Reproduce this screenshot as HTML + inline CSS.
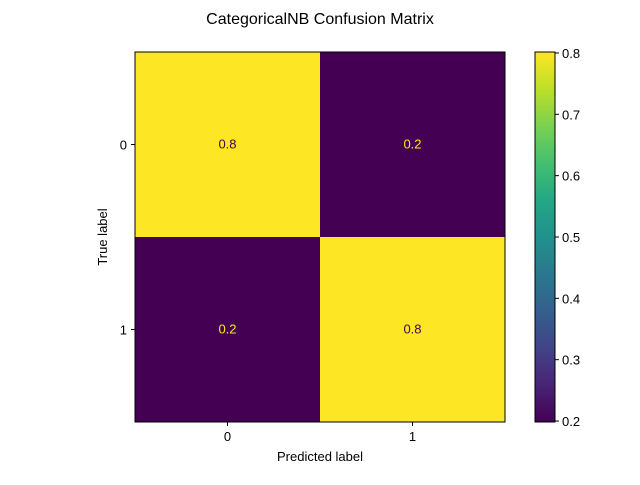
<!DOCTYPE html>
<html><head><meta charset="utf-8"><style>
body{margin:0;background:#fff;}
svg text{font-family:"Liberation Sans","DejaVu Sans",sans-serif;}
</style></head><body>
<svg id="chart" width="640" height="480" viewBox="0 0 640 480">
<defs>
<linearGradient id="vir" x1="0" y1="1" x2="0" y2="0">
<stop offset="0" stop-color="#440154"/><stop offset="0.1" stop-color="#482475"/>
<stop offset="0.2" stop-color="#414487"/><stop offset="0.3" stop-color="#355f8d"/>
<stop offset="0.4" stop-color="#2a788e"/><stop offset="0.5" stop-color="#21918c"/>
<stop offset="0.6" stop-color="#22a884"/><stop offset="0.7" stop-color="#44bf70"/>
<stop offset="0.8" stop-color="#7ad151"/><stop offset="0.9" stop-color="#bddf26"/>
<stop offset="1" stop-color="#fde725"/>
</linearGradient>
</defs>
<text x="320" y="24" text-anchor="middle" font-size="16">CategoricalNB Confusion Matrix</text>
<g id="cells"></g>
<rect x="135" y="52" width="370" height="370" fill="none" stroke="#000" stroke-width="1"/>
<g id="axes"></g>
<text x="320" y="461" text-anchor="middle" font-size="13">Predicted label</text>
<text x="107" y="237" text-anchor="middle" font-size="13" transform="rotate(-90 107 237)">True label</text>
<rect x="535" y="52" width="20" height="370" fill="url(#vir)" stroke="#000" stroke-width="1"/>
<g id="cbticks"></g>
</svg>
<script>
const classes = ["0","1"];
const values = [[0.8016,0.1984],[0.1984,0.8016]];
const labels = [["0.8","0.2"],["0.2","0.8"]];
const cbTicks = [0.2,0.3,0.4,0.5,0.6,0.7,0.8];
const cbTickLabels = ["0.2","0.3","0.4","0.5","0.6","0.7","0.8"];

const NS="http://www.w3.org/2000/svg";
const X0=135,Y0=52,S=370,n=classes.length,cw=S/n;
const vmin=Math.min(...values.flat()),vmax=Math.max(...values.flat());
const stops=["#440154","#482475","#414487","#355f8d","#2a788e","#21918c","#22a884","#44bf70","#7ad151","#bddf26","#fde725"];
function hex(h){return [1,3,5].map(i=>parseInt(h.substr(i,2),16));}
function cmap(t){t=Math.max(0,Math.min(1,t));const p=t*10,i=Math.min(9,Math.floor(p)),f=p-i;const a=hex(stops[i]),b=hex(stops[i+1]);return "rgb("+a.map((v,k)=>Math.round(v+(b[k]-v)*f)).join(",")+")";}
function el(t,a){const e=document.createElementNS(NS,t);for(const k in a)e.setAttribute(k,a[k]);return e;}
const cells=document.getElementById('cells'),axes=document.getElementById('axes'),cb=document.getElementById('cbticks');
for(let r=0;r<n;r++)for(let c=0;c<n;c++){
 const v=values[r][c],t=(v-vmin)/(vmax-vmin);
 const rc=el('rect',{x:X0+c*cw,y:Y0+r*cw,width:cw,height:cw,fill:cmap(t)});
 
 
 cells.appendChild(rc);
 const tx=el('text',{x:X0+(c+.5)*cw,y:Y0+(r+.5)*cw+4,'text-anchor':'middle','font-size':13,fill:t<0.5?'#fde725':'#440154'});
 tx.textContent=labels[r][c];
 
 
 cells.appendChild(tx);
}
classes.forEach((cl,i)=>{
 const p=X0+(i+.5)*cw;
 const py=Y0+(i+.5)*cw;
 axes.appendChild(el('line',{x1:p,x2:p,y1:Y0+S,y2:Y0+S+4,stroke:'#000'}));
 const xt=el('text',{x:p,y:Y0+S+19,'text-anchor':'middle','font-size':13});
 xt.textContent=cl;
 
 
 axes.appendChild(xt);
 axes.appendChild(el('line',{x1:X0-4,x2:X0,y1:py,y2:py,stroke:'#000'}));
 const yt=el('text',{x:X0-8,y:py+5,'text-anchor':'end','font-size':13});
 yt.textContent=cl;
 
 
 axes.appendChild(yt);
});
cbTicks.forEach((v,i)=>{
 const y=Y0+S-(v-vmin)/(vmax-vmin)*S;
 cb.appendChild(el('line',{x1:555,x2:559,y1:y,y2:y,stroke:'#000'}));
 const t=el('text',{x:562,y:y+5,'font-size':13});
 t.textContent=cbTickLabels[i];
 
 
 cb.appendChild(t);
});
</script>
</body></html>
